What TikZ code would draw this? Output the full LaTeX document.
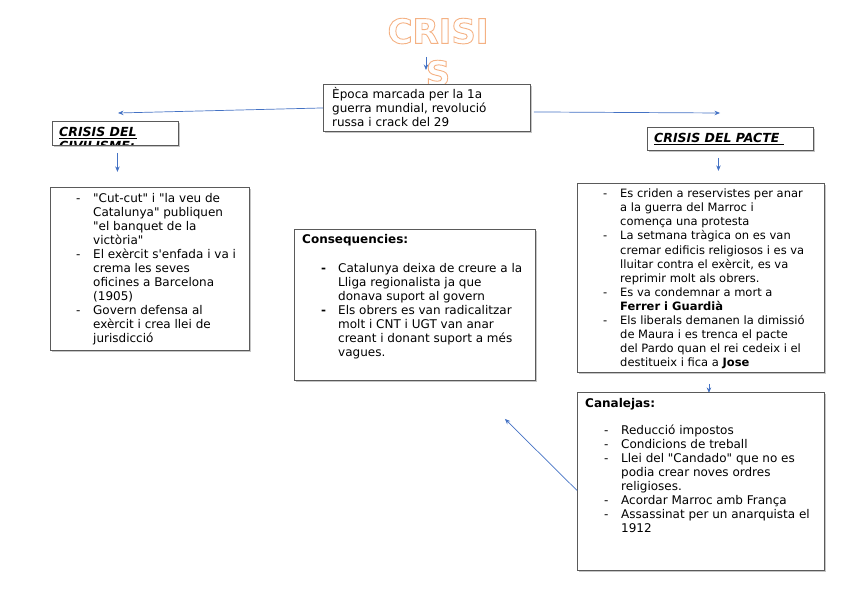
\documentclass[tikz,border=0pt]{standalone}
\usepackage{fontspec}
\setmainfont{DejaVu Sans}
\usepackage{xcolor}
\usetikzlibrary{arrows.meta,positioning,shadows}
\definecolor{vora}{RGB}{90,90,90}
\definecolor{blaufletxa}{RGB}{68,114,196}
\definecolor{taronja}{RGB}{244,177,131}

\newlength{\sagnat}\setlength{\sagnat}{17pt}
\newcommand{\guio}{\makebox[\sagnat][l]{-}}
\newcommand{\guiob}{\makebox[\sagnat][l]{\textbf{-}}}
\newcommand{\segueix}{\hspace*{\sagnat}}
\newcommand{\cometa}{\textquotedbl}
\newcommand{\contorn}[1]{\special{pdf:literal direct 1 Tr 0.9 w}#1\special{pdf:literal direct 0 Tr}}

\begin{document}
\begin{tikzpicture}[
  x=1pt, y=-1pt,
  caixa/.style={draw=vora, line width=0.9pt, fill=white, anchor=north west,
                inner sep=0pt,
                drop shadow={shadow xshift=1.5pt, shadow yshift=-2pt, opacity=0.45}},
  lletra/.style={anchor=north west, align=left, inner sep=0pt,
                 font=\fontsize{12}{14}\selectfont},
  capcalera/.style={lletra, font=\fontsize{12.5}{14}\selectfont\bfseries\itshape},
  fletxa/.style={-{Stealth[length=5.5pt, width=4.5pt]}, draw=blaufletxa, line width=0.7pt}
]
  \useasboundingbox (0,0) rectangle (848,599);

  % titol
  \begin{scope}
    \node[anchor=north, align=center, inner sep=0pt, text=taronja,
          font=\fontsize{34}{42}\selectfont\bfseries] (titol) at (438,18)
      {\contorn{CRISI\\S}};
  \end{scope}

  % fletxes
  \coordinate (titolpeu) at (426,57);
  \draw[fletxa] (titolpeu) -- ++(0,13);

  \node[caixa, minimum width=207pt, minimum height=47pt] (epoca) at (323,84) {};
  \node[caixa, minimum width=126pt, minimum height=24pt] (civ) at (52,121) {};
  \node[caixa, minimum width=166pt, minimum height=23pt] (pacte) at (647,127) {};

  \draw[fletxa] (epoca.west) -- ([shift={(66,-8)}]civ.north west);
  \draw[fletxa] ([shift={(3,4)}]epoca.east) -- ([shift={(73,-14)}]pacte.north west);
  \draw[fletxa] ([shift={(2,7)}]civ.south) -- ++(0,19);
  \draw[fletxa] ([shift={(-12,7)}]pacte.south) -- ++(0,13);

  \node[caixa, minimum width=199pt, minimum height=163pt] (civllista) at (50,187) {};
  \node[caixa, minimum width=247pt, minimum height=189pt] (pactellista) at (577,183) {};
  \node[caixa, minimum width=241pt, minimum height=151pt] (conseq) at (294,229) {};

  \draw[fletxa] ([shift={(8,11)}]pactellista.south) -- ++(0,9);
  \node[caixa, minimum width=247pt, minimum height=178pt] (canalejas) at (577,392) {};
  \draw[fletxa] ([yshift=-9pt]canalejas.west) -- ([shift={(-31,38)}]conseq.south east);

  % textos
  \node[lletra] (epocatext) at (332,87.6)
    {\strut Època marcada per la 1a\\
     guerra mundial, revolució\\
     russa i crack del 29};

  \begin{scope}
    \clip ([shift={(1,-1)}]civ.south west) rectangle ([shift={(-1,1)}]civ.north east);
    \node[capcalera] (civtext) at (59,126.2)
      {\strut\underline{CRISIS DEL}\\\underline{CIVILISME:}};
  \end{scope}
  \node[capcalera] (pactetext) at (654,132.2) {\strut\underline{CRISIS DEL PACTE\ }};

  \begin{scope}
    \clip ([shift={(1,-1)}]civllista.south west) rectangle ([shift={(-1,1)}]civllista.north east);
    \node[lletra] (civllistatext) at (76,192.6)
      {\strut\guio \cometa Cut-cut\cometa{} i \cometa la veu de\\
       \segueix Catalunya\cometa{} publiquen\\
       \segueix \cometa el banquet de la\\
       \segueix victòria\cometa\\
       \guio El exèrcit s\textquotesingle enfada i va i\\
       \segueix crema les seves\\
       \segueix oficines a Barcelona\\
       \segueix (1905)\\
       \guio Govern defensa al\\
       \segueix exèrcit i crea llei de\\
       \segueix jurisdicció};
  \end{scope}

  \node[lletra, font=\fontsize{11.5}{14.1}\selectfont] (pactellistatext) at (603,187.6)
    {\strut\guio Es criden a reservistes per anar\\
     \segueix a la guerra del Marroc i\\
     \segueix comença una protesta\\
     \guio La setmana tràgica on es van\\
     \segueix cremar edificis religiosos i es va\\
     \segueix lluitar contra el exèrcit, es va\\
     \segueix reprimir molt als obrers.\\
     \guio Es va condemnar a mort a\\
     \segueix \textbf{Ferrer i Guardià}\\
     \guio Els liberals demanen la dimissió\\
     \segueix de Maura i es trenca el pacte\\
     \segueix del Pardo quan el rei cedeix i el\\
     \segueix destitueix i fica a \textbf{Jose}};

  \node[lletra] (conseqtext) at (302,233.6)
    {\strut\textbf{Consequencies:}\\[15pt]
     \hspace*{19pt}\guiob Catalunya deixa de creure a la\\
     \hspace*{19pt}\segueix Lliga regionalista ja que\\
     \hspace*{19pt}\segueix donava suport al govern\\
     \hspace*{19pt}\guiob Els obrers es van radicalitzar\\
     \hspace*{19pt}\segueix molt i CNT i UGT van anar\\
     \hspace*{19pt}\segueix creant i donant suport a més\\
     \hspace*{19pt}\segueix vagues.};

  \node[lletra] (canalejastext) at (585,397.6)
    {\strut\textbf{Canalejas:}\\[13pt]
     \hspace*{19pt}\guio Reducció impostos\\
     \hspace*{19pt}\guio Condicions de treball\\
     \hspace*{19pt}\guio Llei del \cometa Candado\cometa{} que no es\\
     \hspace*{19pt}\segueix podia crear noves ordres\\
     \hspace*{19pt}\segueix religioses.\\
     \hspace*{19pt}\guio Acordar Marroc amb França\\
     \hspace*{19pt}\guio Assassinat per un anarquista el\\
     \hspace*{19pt}\segueix 1912};
\end{tikzpicture}
\end{document}
